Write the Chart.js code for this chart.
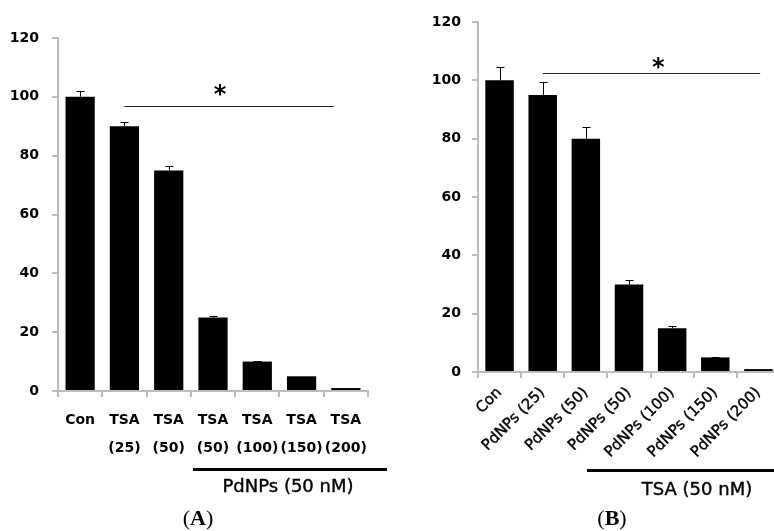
<!DOCTYPE html>
<html>
<head>
<meta charset="utf-8">
<script src="https://cdn.jsdelivr.net/npm/chart.js@4.4.0/dist/chart.umd.min.js"></script>
<style>
  body { margin: 0; width: 774px; height: 531px; overflow: hidden; background: #fff; position: relative; }
  canvas { position: absolute; top: 0; }
  #chartA { left: 0; }
  #chartB { left: 400px; }
  .bracket { position: absolute; height: 3px; background: #000; }
  .group { position: absolute; font-family: 'DejaVu Sans'; font-size: 18px; line-height: 1; color: #000; transform: translateX(-50%); white-space: nowrap; -webkit-text-stroke: 0.4px #000; }
  .panel { position: absolute; font-family: 'Liberation Serif'; font-size: 22px; line-height: 1; color: #000; transform: translateX(-50%); }
</style>
</head>
<body>
<canvas id="chartA" width="400" height="531"></canvas>
<canvas id="chartB" width="390" height="531"></canvas>

<div class="bracket" style="left:193px; top:468px; width:194px"></div>
<div class="group" style="left:288px; top:477px">PdNPs (50 nM)</div>
<div class="panel" style="left:198px; top:507px">(<b>A</b>)</div>

<div class="bracket" style="left:587px; top:469px; width:190px"></div>
<div class="group" style="left:697px; top:480px">TSA (50 nM)</div>
<div class="panel" style="left:612px; top:507px">(<b>B</b>)</div>

<script>
// Panel A: TSA dose series, PdNPs added from the 4th bar
const labelsA = [['Con'], ['TSA', '(25)'], ['TSA', '(50)'], ['TSA', '(50)'], ['TSA', '(100)'], ['TSA', '(150)'], ['TSA', '(200)']];
const valuesA = [100, 90, 75, 25, 10, 5, 1];
const errorsA = [2, 1.5, 1.5, 0.5, 0.3, 0, 0];

// Panel B: PdNPs dose series, TSA added from the 4th bar
const labelsB = ['Con', 'PdNPs (25)', 'PdNPs (50)', 'PdNPs (50)', 'PdNPs (100)', 'PdNPs (150)', 'PdNPs (200)'];
const valuesB = [100, 95, 80, 30, 15, 5, 1];
const errorsB = [4.7, 4.5, 4, 1.6, 0.7, 0.3, 0];

const yMin = 0, yMax = 120, yStep = 20;

const axisGray = '#bdbdbd';

// error bars (upper half only) plus the significance line and star
const annotate = {
  id: 'annotate',
  afterDatasetsDraw(chart, args, opts) {
    const { ctx, scales: { x, y } } = chart;
    const step = x.getPixelForValue(1) - x.getPixelForValue(0);
    const px = v => x.getPixelForValue(0) + v * step;
    ctx.save();
    ctx.strokeStyle = '#000';
    ctx.lineWidth = 1;
    opts.values.forEach((v, i) => {
      const e = opts.errors[i];
      if (!e) return;
      const cx = Math.round(x.getPixelForValue(i)) + 0.5;
      const y0 = y.getPixelForValue(v);
      const y1 = Math.round(y.getPixelForValue(v + e)) + 0.5;
      ctx.beginPath();
      ctx.moveTo(cx, y0);
      ctx.lineTo(cx, y1);
      ctx.moveTo(cx - 4, y1);
      ctx.lineTo(cx + 4, y1);
      ctx.stroke();
    });

    // significance line
    const ly = Math.round(y.getPixelForValue(opts.sigY)) + 0.5;
    ctx.strokeStyle = '#222';
    ctx.beginPath();
    ctx.moveTo(px(opts.sigFrom), ly);
    ctx.lineTo(px(opts.sigTo), ly);
    ctx.stroke();

    // star
    ctx.fillStyle = '#000';
    ctx.font = 'bold 24px "DejaVu Sans"';
    ctx.textAlign = 'center';
    ctx.textBaseline = 'alphabetic';
    ctx.fillText('*', px(opts.starX), y.getPixelForValue(opts.starY) + 10);
    ctx.restore();
  }
};

function makeChart(id, labels, values, errors, cfg) {
  return new Chart(document.getElementById(id), {
    type: 'bar',
    data: {
      labels: labels,
      datasets: [{
        data: values,
        backgroundColor: '#000',
        borderWidth: 0,
        categoryPercentage: 1,
        barPercentage: 0.66,
      }],
    },
    options: {
      responsive: false,
      animation: false,
      devicePixelRatio: 1,
      layout: { padding: cfg.padding },
      plugins: {
        legend: { display: false },
        tooltip: { enabled: false },
        annotate: {
          values: values,
          errors: errors,
          sigY: cfg.sigY,
          sigFrom: cfg.sigFrom,
          sigTo: cfg.sigTo,
          starX: cfg.starX,
          starY: cfg.starY,
        },
      },
      scales: {
        x: {
          offset: true,
          grid: { display: true, offset: true, drawOnChartArea: false, drawTicks: true, tickLength: 6, color: axisGray, lineWidth: 2 },
          border: { color: axisGray, width: 2 },
          ticks: cfg.xTicks,
          afterFit: s => { s.height = cfg.xHeight; },
        },
        y: {
          min: yMin,
          max: yMax,
          grid: { drawOnChartArea: false, drawTicks: true, tickLength: 6, color: axisGray, lineWidth: 2 },
          border: { color: axisGray, width: 2 },
          ticks: {
            stepSize: yStep,
            color: '#000',
            padding: cfg.yPad,
            font: { family: 'DejaVu Sans', size: 14, weight: 'bold' },
          },
          afterFit: s => { s.width = cfg.yWidth; },
        },
      },
    },
    plugins: [annotate],
  });
}

makeChart('chartA', labelsA, valuesA, errorsA, {
  padding: { top: 38, right: 32, bottom: 40, left: 0 },
  yWidth: 58,
  yPad: 13,
  xHeight: 100,
  xTicks: {
    color: '#000',
    padding: 9,
    autoSkip: false,
    maxRotation: 0,
    font: { family: 'DejaVu Sans', size: 14, weight: 'bold', lineHeight: 2 },
  },
  sigY: 96.8, sigFrom: 1, sigTo: 5.73,
  starX: 3.16, starY: 101.7,
});

makeChart('chartB', labelsB, valuesB, errorsB, {
  padding: { top: 22, right: 10, bottom: 39, left: 0 },
  yWidth: 78,
  yPad: 11,
  xHeight: 120,
  xTicks: {
    color: '#000',
    padding: 6,
    autoSkip: false,
    minRotation: 45,
    maxRotation: 45,
    textStrokeColor: '#000',
    textStrokeWidth: 0.4,
    font: { family: 'DejaVu Sans', size: 15 },
  },
  sigY: 102.5, sigFrom: 1, sigTo: 6.04,
  starX: 3.68, starY: 105.3,
});
</script>
</body>
</html>
